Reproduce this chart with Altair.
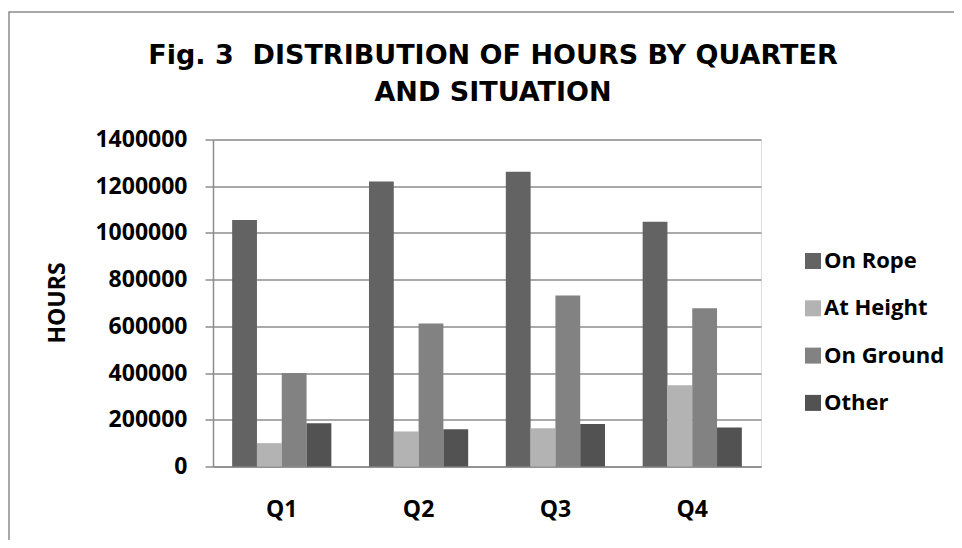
import altair as alt
import pandas as pd

quarters = ["Q1", "Q2", "Q3", "Q4"]
series = ["On Rope", "At Height", "On Ground", "Other"]
on_rope = [1055000, 1220000, 1262000, 1048000]
at_height = [100000, 150000, 164000, 348000]
on_ground = [400000, 612000, 732000, 678000]
other = [185000, 160000, 182000, 167000]
colors = ["#636363", "#b3b3b3", "#828282", "#525252"]
y_ticks = [0, 200000, 400000, 600000, 800000, 1000000, 1200000, 1400000]

rows = []
for name, vals in zip(series, [on_rope, at_height, on_ground, other]):
    for q, v in zip(quarters, vals):
        rows.append({"quarter": q, "series": name, "hours": v})
df = pd.DataFrame(rows)

LABEL_FONT = "Open Sans"
GRID = "#8c8c8c"

bars = alt.Chart(df).mark_bar(stroke=None).encode(
    x=alt.X("quarter:N", sort=quarters,
            scale=alt.Scale(paddingInner=0.275, paddingOuter=0.14),
            axis=alt.Axis(title=None, labelAngle=0, ticks=False, tickSize=0,
                          labelPadding=32, labelFont=LABEL_FONT, labelFontSize=23,
                          labelFontWeight="bold", labelColor="#000000",
                          domainColor=GRID, domainWidth=1.5, grid=False)),
    xOffset=alt.XOffset("series:N", sort=series,
                        scale=alt.Scale(paddingInner=0, paddingOuter=0)),
    y=alt.Y("hours:Q", scale=alt.Scale(domain=[0, 1400000], nice=False),
            axis=alt.Axis(title="HOURS", values=y_ticks, format="d",
                          labelFont=LABEL_FONT, labelFontSize=23, labelFontWeight="bold",
                          labelColor="#000000", labelPadding=18,
                          tickSize=8, tickColor=GRID, tickWidth=1.5,
                          domainColor=GRID, domainWidth=1.5,
                          grid=True, gridColor=GRID, gridWidth=1.5,
                          titleFont=LABEL_FONT, titleFontSize=23, titleFontWeight="bold",
                          titleColor="#000000", titleAngle=270, titleX=-148.5,
                          titleY=163, titleBaseline="alphabetic", titleAlign="center")),
    color=alt.Color("series:N", sort=series,
                    scale=alt.Scale(domain=series, range=colors),
                    legend=alt.Legend(title=None, orient="none", legendX=589, legendY=110.5,
                                      symbolType="square", symbolSize=256,
                                      symbolStrokeWidth=0, labelFont=LABEL_FONT,
                                      labelFontSize=22, labelFontWeight="bold",
                                      labelColor="#000000", rowPadding=25.3,
                                      labelOffset=0, padding=0)),
)

border = alt.Chart(pd.DataFrame({"a": [0]})).mark_rect(
    fill=None, stroke="#8c8c8c", strokeWidth=1.5, clip=False
).encode(
    x=alt.value(-204), x2=alt.value(1000), y=alt.value(-127.5), y2=alt.value(700)
)

chart = alt.layer(border, bars).properties(
    width=548, height=327,
    padding={"left": 205, "top": 131.5, "right": 193, "bottom": 73.5},
    autosize=alt.AutoSizeParams(type="none"),
    title=alt.TitleParams(
        text=["Fig. 3\u00a0\u00a0DISTRIBUTION OF HOURS BY QUARTER", "AND SITUATION"],
        font="DejaVu Sans", fontSize=27, fontWeight="bold", color="#000000",
        anchor="middle", lineHeight=37, dx=6, offset=0, dy=116.5,
        baseline="alphabetic",
    ),
).configure_view(stroke=None).configure(background="#ffffff")

chart.save("out.html", embed_options={"renderer": "svg", "actions": False})
